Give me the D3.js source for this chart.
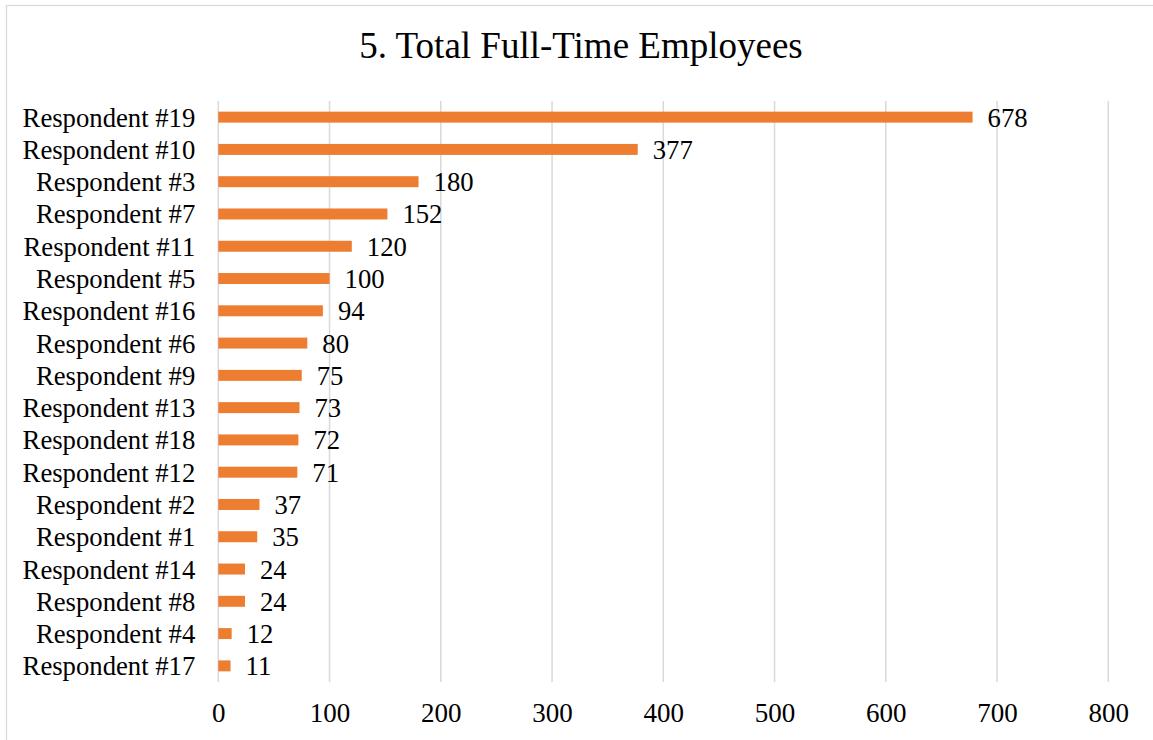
<!DOCTYPE html>
<html>
<head>
<meta charset="utf-8">
<script src="https://cdn.jsdelivr.net/npm/d3@7"></script>
<style>
  html, body { margin: 0; padding: 0; background: #fff; }
  svg { display: block; }
  text { font-family: "Liberation Serif", "Times New Roman", serif; fill: #000; }
</style>
</head>
<body>
<script>
// Respondents, listed top to bottom
const respondents = [
  "Respondent #19", "Respondent #10", "Respondent #3", "Respondent #7",
  "Respondent #11", "Respondent #5", "Respondent #16", "Respondent #6",
  "Respondent #9", "Respondent #13", "Respondent #18", "Respondent #12",
  "Respondent #2", "Respondent #1", "Respondent #14", "Respondent #8",
  "Respondent #4", "Respondent #17"
];
// Full-time employee counts
const employees = [678, 377, 180, 152, 120, 100, 94, 80, 75, 73, 72, 71, 37, 35, 24, 24, 12, 11];
// Axis ticks
const xTicks = [0, 100, 200, 300, 400, 500, 600, 700, 800];
const chartTitle = "5. Total Full-Time Employees";

const W = 1153, H = 740;
const plot = { left: 218.3, right: 1108.3, top: 101, bottom: 682 };
const serif = '"Liberation Serif", "Times New Roman", serif';

const svg = d3.select("body").append("svg")
  .attr("width", W).attr("height", H);

// Chart frame
svg.append("rect")
  .attr("x", 6.5).attr("y", 5.5)
  .attr("width", W + 20).attr("height", H + 20)
  .attr("fill", "none").attr("stroke", "#d9d9d9").attr("stroke-width", 1.3);

const x = d3.scaleLinear().domain([0, 800]).range([plot.left, plot.right]);
const y = d3.scaleBand().domain(respondents).range([plot.top, plot.bottom]).paddingInner(0.66).paddingOuter(0.33);

// Vertical gridlines
svg.append("g").selectAll("line").data(xTicks).join("line")
  .attr("x1", d => x(d)).attr("x2", d => x(d))
  .attr("y1", plot.top).attr("y2", plot.bottom)
  .attr("stroke", "#d9d9d9").attr("stroke-width", 1.5);

// Tick labels along the bottom
const xAxis = svg.append("g")
  .attr("transform", `translate(0,${plot.bottom})`)
  .call(d3.axisBottom(x).tickValues(xTicks).tickSize(0).tickPadding(0));
xAxis.select(".domain").remove();
xAxis.selectAll("text")
  .attr("y", 40).attr("dy", null)
  .style("font-size", "27px")
  .style("font-family", serif)
  .attr("fill", "#000");

// Category labels
const yAxis = svg.append("g")
  .attr("transform", `translate(${plot.left},0)`)
  .call(d3.axisLeft(y).tickSize(0).tickPadding(0));
yAxis.select(".domain").remove();
yAxis.selectAll("text")
  .attr("x", -23).attr("dy", "9.5px")
  .style("font-size", "26.7px")
  .style("font-family", serif)
  .attr("fill", "#000");

const rows = respondents.map((r, i) => ({ name: r, value: employees[i] }));

// Bars
svg.append("g").selectAll("rect").data(rows).join("rect")
  .attr("x", x(0))
  .attr("y", d => y(d.name))
  .attr("width", d => x(d.value) - x(0))
  .attr("height", y.bandwidth())
  .attr("fill", "#ed7d31");

// Value labels
svg.append("g").selectAll("text").data(rows).join("text")
  .attr("x", d => x(d.value) + 15)
  .attr("y", d => y(d.name) + y.bandwidth() / 2 + 9.5)
  .style("font-size", "26.7px")
  .text(d => d.value);

// Title
svg.append("text")
  .attr("x", 581).attr("y", 58)
  .attr("text-anchor", "middle")
  .style("font-size", "37px")
  .text(chartTitle);
</script>
</body>
</html>
